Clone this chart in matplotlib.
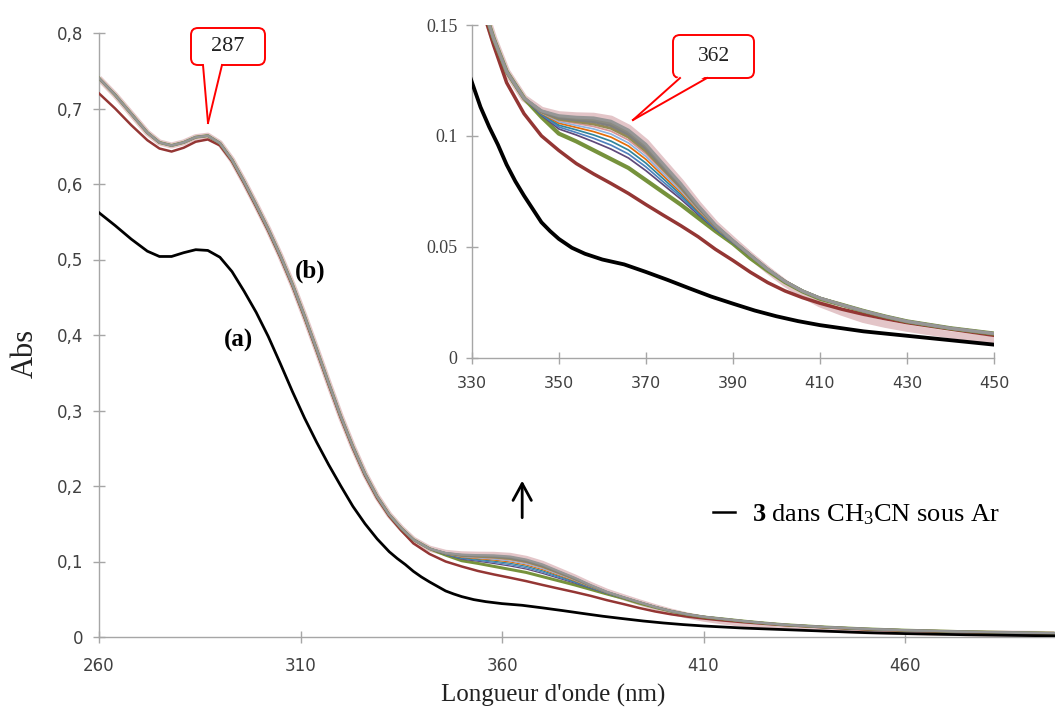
import matplotlib
matplotlib.use("Agg")
import matplotlib.pyplot as plt
from matplotlib.patches import FancyBboxPatch, Polygon
from matplotlib.lines import Line2D
from matplotlib.transforms import Affine2D

plt.rcParams['mathtext.fontset'] = 'custom'
plt.rcParams['mathtext.rm'] = 'Liberation Serif'
plt.rcParams['mathtext.bf'] = 'Liberation Serif:bold'
plt.rcParams['mathtext.it'] = 'Liberation Serif:italic'

# ---------------- data ----------------
# (a) compound 3 in CH3CN under Ar
wl_a = [260, 264, 268, 272, 275, 278, 281, 284, 287, 290, 293, 296, 299, 302, 305, 308,
        311, 314, 317, 320, 323, 326, 329, 332, 334, 336, 338, 340, 342, 344, 346, 348,
        350, 353, 356, 360, 365, 370, 375, 380, 385, 390, 395, 400, 405, 410, 420, 430,
        440, 450, 460, 475, 497]
abs_a = [0.562, 0.545, 0.527, 0.511, 0.504, 0.504, 0.509, 0.513, 0.512, 0.503, 0.484, 0.458,
         0.430, 0.398, 0.362, 0.325, 0.290, 0.258, 0.228, 0.200, 0.173, 0.150, 0.130, 0.113,
         0.104, 0.096, 0.087, 0.0795, 0.073, 0.067, 0.061, 0.057, 0.0535, 0.0495, 0.0468,
         0.0442, 0.0420, 0.0386, 0.0350, 0.0312, 0.0275, 0.0243, 0.0212, 0.0186, 0.0164,
         0.0146, 0.0118, 0.0098, 0.0078, 0.0058, 0.0045, 0.0030, 0.0015]

# (b) series: UV part (curves coincide)
wl_uv = [260, 264, 268, 272, 275, 278, 281, 284, 287, 290, 293, 296, 299, 302, 305, 308,
         311, 314, 317, 320, 323, 326, 329, 332, 335, 338]
abs_uv_first = [0.720, 0.700, 0.678, 0.658, 0.647, 0.643, 0.648, 0.656, 0.659, 0.651, 0.630,
                0.601, 0.570, 0.538, 0.503, 0.465, 0.423, 0.379, 0.334, 0.290, 0.250, 0.214,
                0.184, 0.160, 0.141, 0.124]
abs_uv_rest = [0.740, 0.718, 0.693, 0.668, 0.655, 0.651, 0.655, 0.662, 0.664, 0.654, 0.632,
               0.603, 0.572, 0.540, 0.505, 0.467, 0.425, 0.381, 0.336, 0.292, 0.252, 0.216,
               0.186, 0.162, 0.144, 0.129]

# visible band region, one list per spectrum (first -> last)
wl_vis = [342, 346, 350, 354, 358, 362, 366, 370, 374, 378, 382, 386, 390, 394, 398, 402, 406, 410]
abs_vis = [
    [0.110, 0.1000, 0.0934, 0.0875, 0.0828, 0.0785, 0.0740, 0.0690, 0.0642, 0.0595, 0.0545, 0.0488, 0.0438, 0.0385, 0.0338, 0.0300, 0.0270, 0.0245],
    [0.117, 0.1085, 0.1010, 0.0975, 0.0935, 0.0895, 0.0855, 0.0800, 0.0745, 0.0690, 0.0630, 0.0570, 0.0514, 0.0448, 0.0392, 0.0340, 0.0298, 0.0265],
    [0.117, 0.1093, 0.1031, 0.1004, 0.0973, 0.0940, 0.0900, 0.0843, 0.0779, 0.0715, 0.0645, 0.0578, 0.0518, 0.0458, 0.0396, 0.0342, 0.0300, 0.0267],
    [0.117, 0.1096, 0.1040, 0.1015, 0.0989, 0.0958, 0.0918, 0.0860, 0.0792, 0.0725, 0.0651, 0.0581, 0.0519, 0.0459, 0.0397, 0.0342, 0.0300, 0.0267],
    [0.117, 0.1099, 0.1048, 0.1027, 0.1004, 0.0976, 0.0936, 0.0877, 0.0806, 0.0735, 0.0657, 0.0584, 0.0521, 0.0460, 0.0397, 0.0343, 0.0300, 0.0268],
    [0.117, 0.1102, 0.1057, 0.1038, 0.1019, 0.0994, 0.0954, 0.0894, 0.0819, 0.0745, 0.0663, 0.0587, 0.0522, 0.0460, 0.0398, 0.0343, 0.0300, 0.0268],
    [0.117, 0.1104, 0.1064, 0.1047, 0.1031, 0.1008, 0.0968, 0.0907, 0.0830, 0.0753, 0.0668, 0.0589, 0.0523, 0.0461, 0.0398, 0.0343, 0.0300, 0.0268],
    [0.117, 0.1106, 0.1070, 0.1056, 0.1042, 0.1021, 0.0981, 0.0919, 0.0840, 0.0760, 0.0672, 0.0591, 0.0524, 0.0461, 0.0398, 0.0343, 0.0300, 0.0268],
    [0.117, 0.1108, 0.1075, 0.1064, 0.1053, 0.1034, 0.0994, 0.0931, 0.0849, 0.0767, 0.0676, 0.0593, 0.0526, 0.0462, 0.0398, 0.0343, 0.0300, 0.0268],
    [0.117, 0.1110, 0.1081, 0.1072, 0.1064, 0.1046, 0.1006, 0.0943, 0.0858, 0.0774, 0.0680, 0.0595, 0.0527, 0.0462, 0.0398, 0.0343, 0.0300, 0.0268],
    [0.117, 0.1112, 0.1087, 0.1079, 0.1073, 0.1057, 0.1017, 0.0953, 0.0866, 0.0780, 0.0684, 0.0597, 0.0528, 0.0462, 0.0398, 0.0343, 0.0300, 0.0268],
    [0.117, 0.1113, 0.1091, 0.1084, 0.1081, 0.1066, 0.1026, 0.0962, 0.0873, 0.0785, 0.0687, 0.0598, 0.0528, 0.0462, 0.0398, 0.0343, 0.0300, 0.0268],
    [0.117, 0.1115, 0.1095, 0.1090, 0.1088, 0.1075, 0.1035, 0.0970, 0.0880, 0.0790, 0.0690, 0.0600, 0.0529, 0.0460, 0.0395, 0.0335, 0.0285, 0.0243],
]

# long-wavelength tails
wl_tail = [415, 420, 425, 430, 440, 450, 460, 475, 497]
tail_first = [0.0218, 0.0195, 0.0175, 0.0157, 0.0128, 0.0100, 0.0083, 0.0063, 0.0045]
tail_mid = [0.0238, 0.0210, 0.0185, 0.0163, 0.0132, 0.0108, 0.0090, 0.0070, 0.0050]
tail_last = [0.0205, 0.0172, 0.0150, 0.0132, 0.0102, 0.0078, 0.0065, 0.0050, 0.0038]

series_colors = ['#943634', '#76923C', '#5F497A', '#4F81BD', '#31859C', '#E36C09',
                 '#8DB3E2', '#D99594', '#948A54', '#7F7F7F', '#8A8A80', '#969696', '#E3C5C8']

main_xticks = [260, 310, 360, 410, 460]
main_yticks = [0, 0.1, 0.2, 0.3, 0.4, 0.5, 0.6, 0.7, 0.8]
main_ylabels = ['0', '0,1', '0,2', '0,3', '0,4', '0,5', '0,6', '0,7', '0,8']
inset_xticks = [330, 350, 370, 390, 410, 430, 450]
inset_yticks = [0, 0.05, 0.1, 0.15]
inset_ylabels = ['0', '0.05', '0.1', '0.15']

# ---------------- build series ----------------
n = len(abs_vis)
spectra = []
for i in range(n):
    uv = abs_uv_first if i == 0 else abs_uv_rest
    tail = tail_first if i == 0 else (tail_last if i == n - 1 else tail_mid)
    spectra.append((wl_uv + wl_vis + wl_tail, uv + abs_vis[i] + tail))

# ---------------- figure ----------------
W, H = 1055, 712
fig = plt.figure(figsize=(W / 100, H / 100), dpi=100)
ax = fig.add_axes([99 / W, 75 / H, 956 / W, 604 / H])
axin = fig.add_axes([471.8 / W, (H - 357.5) / H, 522.2 / W, 332.5 / H])

axis_gray = '#A6A6A6'
lab_col = '#404040'


def style(a):
    for s in ['top', 'right']:
        a.spines[s].set_visible(False)
    for s in ['left', 'bottom']:
        a.spines[s].set_color(axis_gray)
        a.spines[s].set_linewidth(1.0)
    a.tick_params(direction='inout', length=8.5, width=1.0, color=axis_gray,
                  labelcolor=lab_col)


def draw(a, lw_scale, pink_lw):
    # last spectrum (pink) first, thick, underneath
    wl, ab = spectra[-1]
    a.plot(wl, ab, color=series_colors[-1], lw=pink_lw, zorder=2,
           solid_capstyle='butt')
    for i in range(n - 1):
        wl, ab = spectra[i]
        if i == 0:
            lw = 2.0
        elif i == 1:
            lw = 2.4
        elif i >= 8:
            lw = 1.7
        else:
            lw = 1.0
        a.plot(wl, ab, color=series_colors[i], lw=lw * lw_scale, zorder=3 + i * 0.01)
    return a.plot(wl_a, abs_a, color='black', lw=2.2 * lw_scale, zorder=4)[0]


# main
style(ax)
line_a = draw(ax, 0.9, 4.4)
ax.set_xlim(260, 497.2)
ax.set_ylim(0, 0.8)
ax.set_xticks(main_xticks)
ax.set_yticks(main_yticks)
ax.set_yticklabels(main_ylabels)
ax.tick_params(axis='y', pad=7, labelsize=12)
ax.tick_params(axis='x', pad=10, labelsize=12)
ax.set_ylabel('Abs', family='Liberation Serif', fontsize=22, color='#222222')
ax.yaxis.set_label_coords(-0.062, 0.47)
ax.set_xlabel("Longueur d'onde (nm)", family='Liberation Serif', fontsize=18, color='#222222')
ax.xaxis.set_label_coords(0.475, -0.078)

ax.text(294.5, 0.393, '(a)', family='Liberation Serif', weight='bold', fontsize=18,
        ha='center', va='center')
ax.text(312.4, 0.485, '(b)', family='Liberation Serif', weight='bold', fontsize=18,
        ha='center', va='center')
ax.annotate('', xy=(365.0, 0.207), xytext=(365.0, 0.158),
            arrowprops=dict(arrowstyle='->,head_length=0.55,head_width=0.3', lw=2.0,
                            color='black', mutation_scale=22, shrinkA=0, shrinkB=0))
leg = ax.legend([line_a], [r'$\mathbf{3}$ dans CH$_3$CN sous Ar'], loc='center left',
                bbox_to_anchor=(0.642, 0.202), frameon=False, handlelength=0.85,
                handletextpad=0.65, borderpad=0, borderaxespad=0,
                prop={'family': 'Liberation Serif', 'size': 19})
leg.get_lines()[0].set_linewidth(1.8)

# inset
style(axin)
draw(axin, 1.25, 5.2)
axin.set_xlim(330, 450)
axin.set_ylim(0, 0.15)
axin.set_xticks(inset_xticks)
axin.set_yticks(inset_yticks)
axin.set_yticklabels(inset_ylabels, family='Liberation Serif', fontsize=13)
axin.tick_params(axis='x', labelsize=11.5, pad=9)
axin.tick_params(axis='y', pad=6)

# callouts (figure pixel coordinates)
pt = Affine2D().scale(1 / W, -1 / H).translate(0, 1) + fig.transFigure


def callout(x0, y0, w, h, base, tip, text, fs):
    box = FancyBboxPatch((x0, y0), w, h, boxstyle='round,pad=0,rounding_size=7',
                         transform=pt, fc='white', ec='#FF0000', lw=1.4, zorder=10)
    fig.add_artist(box)
    yb = y0 + h
    fig.add_artist(Polygon([(base[0], yb - 2.5), (base[1], yb - 2.5), tip], closed=True,
                           transform=pt, fc='white', ec='none', zorder=11))
    for bx in base:
        fig.add_artist(Line2D([bx, tip[0]], [yb, tip[1]], transform=pt, color='#FF0000',
                              lw=1.4, zorder=12))
    fig.text((x0 + w / 2) / W, 1 - (y0 + h / 2) / H,
             text, family='Liberation Serif', fontsize=fs, ha='center', va='center',
             color='#222222', zorder=13)


callout(191, 28, 74, 37, (203, 222), (208, 123), '287', 16)
callout(673, 35, 81, 43, (680, 707), (633, 120), '362', 15.5)

fig.savefig('out.png', dpi=100, facecolor='white')
